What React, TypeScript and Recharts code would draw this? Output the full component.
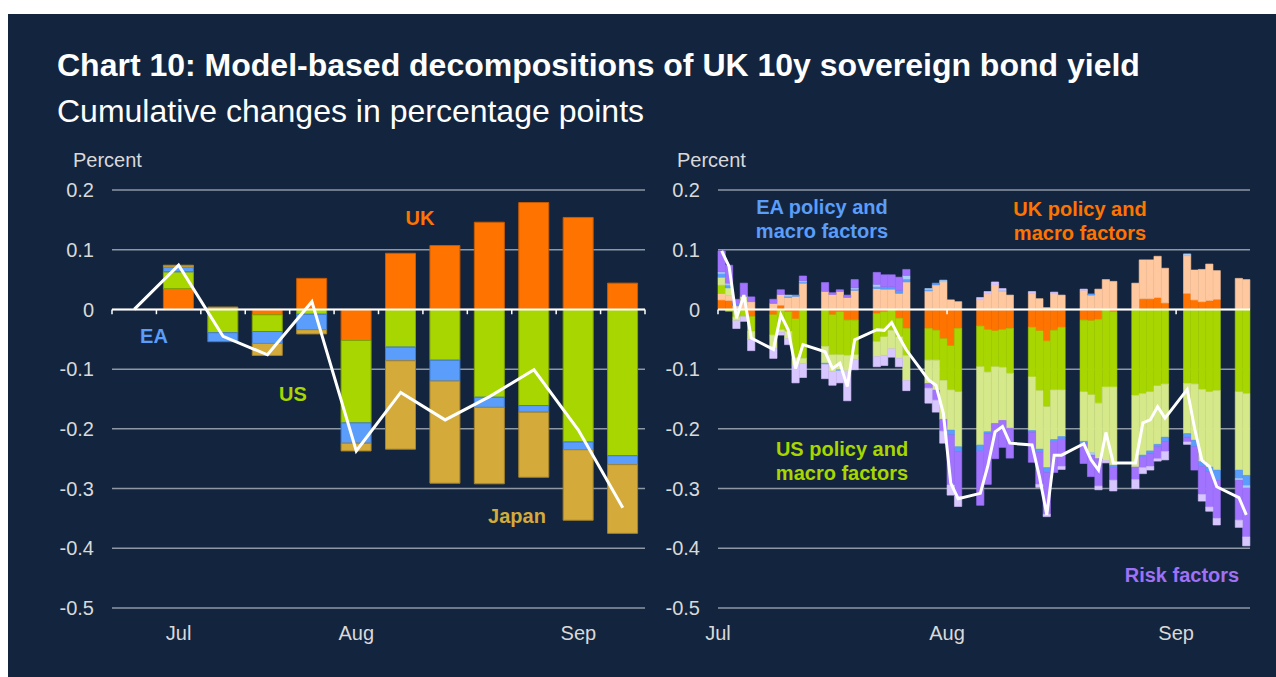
import { Bar, CartesianGrid, ComposedChart, Line, ReferenceLine, XAxis, YAxis } from 'recharts';

// ---- left panel: weekly contributions (first slot is the starting point) ----
const weekLabels = ['', 'Jul', '', '', '', 'Aug', '', '', '', '', 'Sep', ''];
const weeklyUK = [null, 0.035, 0, -0.009, 0.052, -0.052, 0.094, 0.107, 0.146, 0.179, 0.154, 0.044];
const weeklyUS = [null, 0.028, -0.039, -0.028, -0.008, -0.138, -0.063, -0.085, -0.147, -0.161, -0.222, -0.245];
const weeklyEA = [null, 0.008, -0.015, -0.02, -0.026, -0.034, -0.023, -0.035, -0.017, -0.011, -0.013, -0.015];
const weeklyJapan = [null, 0.003, 0.004, -0.02, -0.007, -0.013, -0.148, -0.171, -0.128, -0.109, -0.118, -0.115];
const weeklyTotal = [0, 0.074, -0.045, -0.076, 0.013, -0.237, -0.139, -0.185, -0.146, -0.101, -0.202, -0.332];

// ---- right panel: daily contributions ----
const dailyDates = [
  '2024-07-01', '2024-07-02', '2024-07-03', '2024-07-04', '2024-07-05',
  '2024-07-08', '2024-07-09', '2024-07-10', '2024-07-11', '2024-07-12',
  '2024-07-15', '2024-07-16', '2024-07-17', '2024-07-18', '2024-07-19',
  '2024-07-22', '2024-07-23', '2024-07-24', '2024-07-25', '2024-07-26',
  '2024-07-29', '2024-07-30', '2024-07-31', '2024-08-01', '2024-08-02',
  '2024-08-05', '2024-08-06', '2024-08-07', '2024-08-08', '2024-08-09',
  '2024-08-12', '2024-08-13', '2024-08-14', '2024-08-15', '2024-08-16',
  '2024-08-19', '2024-08-20', '2024-08-21', '2024-08-22', '2024-08-23',
  '2024-08-26', '2024-08-27', '2024-08-28', '2024-08-29', '2024-08-30',
  '2024-09-02', '2024-09-03', '2024-09-04', '2024-09-05', '2024-09-06',
  '2024-09-09', '2024-09-10',
];
const ukPolicy = [
  0.016, 0.015, 0, 0, -0.012,
  -0.009, 0.007, -0.004, -0.016, 0,
  0, -0.009, -0.004, -0.018, -0.018,
  -0.007, -0.004, 0, -0.015, -0.032,
  -0.032, -0.035, -0.049, -0.061, -0.032,
  -0.028, -0.034, -0.036, -0.034, -0.032,
  -0.03, -0.036, -0.053, -0.035, -0.03,
  -0.018, -0.019, -0.017, 0, -0.004,
  0, 0.018, 0.018, 0.02, 0.011,
  0.027, 0.016, 0.013, 0.015, 0.017,
  0, 0,
];
const ukMacro = [
  0.011, 0.008, 0.006, 0.01, 0.013,
  0.01, 0.018, 0.02, 0.022, 0.044,
  0.03, 0.025, 0.03, 0.02, 0.032,
  0.035, 0.034, 0.034, 0.027, 0.046,
  0.031, 0.041, 0.046, 0.016, 0.013,
  0.016, 0.026, 0.041, 0.03, 0.024,
  0.027, 0.018, 0.003, 0.026, 0.024,
  0.032, 0.024, 0.034, 0.05, 0.047,
  0.044, 0.065, 0.065, 0.069, 0.058,
  0.063, 0.05, 0.054, 0.061, 0.048,
  0.052, 0.05,
];
const usPolicy = [
  0.014, -0.003, -0.013, -0.012, -0.025,
  -0.034, -0.034, -0.033, -0.065, -0.082,
  -0.062, -0.067, -0.072, -0.059, -0.058,
  -0.047, -0.042, -0.035, -0.031, -0.045,
  -0.053, -0.05, -0.07, -0.074, -0.106,
  -0.068, -0.071, -0.06, -0.063, -0.075,
  -0.083, -0.1, -0.11, -0.1, -0.105,
  -0.12, -0.124, -0.14, -0.13, -0.126,
  -0.144, -0.141, -0.138, -0.128, -0.125,
  -0.124, -0.125, -0.134, -0.138, -0.136,
  -0.138, -0.141,
];
const usMacro = [
  0.013, 0.013, -0.006, 0.012, -0.013,
  -0.022, -0.004, -0.012, -0.012, -0.009,
  -0.028, -0.028, -0.025, -0.026, -0.008,
  -0.025, -0.031, -0.031, -0.036, -0.042,
  -0.039, -0.05, -0.065, -0.067, -0.092,
  -0.131, -0.1, -0.095, -0.089, -0.092,
  -0.09, -0.098, -0.102, -0.083, -0.078,
  -0.083, -0.097, -0.093, -0.123, -0.131,
  -0.12, -0.103, -0.099, -0.098, -0.089,
  -0.084, -0.094, -0.121, -0.126, -0.133,
  -0.131, -0.137,
];
const eaPolicy = [
  0.006, 0.005, 0.003, 0, 0,
  0, 0, 0.002, 0.002, 0.002,
  -0.002, 0, -0.002, 0, 0.002,
  0.003, 0.004, 0.004, 0.005, 0.005,
  0.002, 0.003, 0, -0.008, -0.008,
  -0.01, -0.003, 0, 0, 0,
  -0.003, -0.005, -0.008, -0.004, -0.004,
  -0.003, 0.002, 0, 0, -0.003,
  0, -0.003, -0.004, -0.004, -0.007,
  -0.006, -0.011, -0.008, -0.008, -0.017,
  -0.014, -0.017,
];
const eaMacro = [
  0.003, 0.003, 0, 0, 0,
  0, 0, 0.002, 0, 0.002,
  0, 0, 0, 0, 0.002,
  0.004, 0, 0, 0, 0.006,
  0.002, 0, 0.003, 0, 0,
  0, 0, 0, 0.002, 0,
  0, 0, 0, 0, 0,
  0, -0.004, 0, 0, 0,
  0, 0, 0, 0, 0,
  0.003, 0, 0, 0, 0,
  -0.003, -0.004,
];
const riskMain = [
  0.035, 0.03, 0.008, 0.022, 0.008,
  0.007, 0.008, 0, 0, 0.008,
  0.015, 0.003, 0.003, 0.004, 0.014,
  0.02, 0.02, 0.02, 0.022, 0.01,
  -0.008, -0.017, -0.02, -0.084, -0.075,
  -0.091, -0.085, -0.059, -0.045, -0.05,
  -0.05, -0.054, -0.07, -0.051, -0.046,
  -0.034, -0.036, -0.046, 0, -0.022,
  -0.021, -0.018, -0.022, -0.02, -0.017,
  -0.008, -0.039, -0.047, -0.059, -0.064,
  -0.067, -0.082,
];
const riskOther = [
  0, 0, -0.013, -0.008, -0.019,
  -0.017, -0.005, -0.01, -0.03, -0.023,
  -0.024, -0.023, -0.02, -0.05, -0.017,
  -0.017, -0.017, -0.014, -0.014, -0.017,
  -0.025, -0.02, -0.02, -0.017, -0.017,
  0.004, 0.004, 0.005, 0.003, 0,
  0.003, -0.005, -0.004, 0.003, -0.005,
  0.002, 0, -0.006, -0.004, -0.018,
  -0.015, -0.01, -0.006, -0.004, -0.014,
  -0.004, 0, -0.011, -0.007, -0.011,
  -0.012, -0.015,
];
const dailyTotal = [
  0.098, 0.072, -0.015, 0.024, -0.048,
  -0.067, -0.009, -0.034, -0.099, -0.059,
  -0.071, -0.099, -0.09, -0.129, -0.051,
  -0.034, -0.035, -0.022, -0.046, -0.068,
  -0.118, -0.127, -0.174, -0.291, -0.317,
  -0.308, -0.263, -0.205, -0.196, -0.224,
  -0.227, -0.28, -0.344, -0.244, -0.244,
  -0.225, -0.252, -0.269, -0.206, -0.257,
  -0.257, -0.19, -0.185, -0.163, -0.182,
  -0.134, -0.199, -0.253, -0.263, -0.297,
  -0.315, -0.344,
];
const monthStarts = ['2024-07-01', '2024-08-01', '2024-09-01'];
const monthLabels = ['Jul', 'Aug', 'Sep'];

const yTicks = [0.2, 0.1, 0, -0.1, -0.2, -0.3, -0.4, -0.5];

const BG = '#13253e';
const GRID = '#8e97a4';
const TEXT = '#d9d9d9';
const FONT = '"Liberation Sans", Arial, sans-serif';

const C = {
  ukPolicy: '#ff7400',
  ukMacro: '#ffc89e',
  usPolicy: '#a8d600',
  usMacro: '#d5e88a',
  eaPolicy: '#5a9dfb',
  eaMacro: '#a9cff7',
  riskMain: '#a173ff',
  riskOther: '#d8c6ff',
  japan: '#d4ab3a',
};

const dayIndex = (iso: string) => {
  const [y, m, d] = iso.split('-').map(Number);
  return Math.round((Date.UTC(y, m - 1, d) - Date.UTC(2024, 6, 1)) / 86400000);
};

const weeklyData = weekLabels.map((_, i) => ({
  i,
  uk: weeklyUK[i],
  us: weeklyUS[i],
  ea: weeklyEA[i],
  japan: weeklyJapan[i],
  total: weeklyTotal[i],
}));
const weekTicks = weekLabels.map((l, i) => (l ? i : -1)).filter((i) => i >= 0);

const dailyData = dailyDates.map((d, i) => ({
  day: dayIndex(d),
  ukPolicy: ukPolicy[i],
  ukMacro: ukMacro[i],
  usPolicy: usPolicy[i],
  usMacro: usMacro[i],
  eaPolicy: eaPolicy[i],
  eaMacro: eaMacro[i],
  riskMain: riskMain[i],
  riskOther: riskOther[i],
  total: dailyTotal[i],
}));
const monthTicks = monthStarts.map((d) => dayIndex(d) - 0.5);
const lastDay = dayIndex(dailyDates[dailyDates.length - 1]);

const fmtY = (v: number) => (v === 0 ? '0' : v.toFixed(1));
const tickStyle = { fill: TEXT, fontSize: 20, fontFamily: FONT };

const yAxis = (width: number) => (
  <YAxis
    domain={[-0.5, 0.2]}
    ticks={yTicks}
    tickFormatter={fmtY}
    tick={tickStyle}
    tickLine={false}
    axisLine={false}
    tickSize={0}
    tickMargin={18}
    width={width}
    interval={0}
  />
);

const zeroTick = (x: number) => (
  <ReferenceLine
    key={'t' + x}
    segment={[{ x, y: 0 }, { x, y: -0.008 }]}
    stroke="#ffffff"
    strokeWidth={1.5}
  />
);

function WeeklyChart() {
  const boundaries = weekLabels.map((_, i) => i - 0.5).concat(weekLabels.length - 0.5);
  return (
    <ComposedChart
      width={610}
      height={500}
      data={weeklyData}
      stackOffset="sign"
      margin={{ top: 40, right: 13, bottom: 12, left: 0 }}
    >
      <CartesianGrid horizontal vertical={false} stroke={GRID} strokeWidth={1.5} />
      <XAxis
        dataKey="i"
        type="number"
        domain={[-0.5, weekLabels.length - 0.5]}
        ticks={weekTicks}
        tickFormatter={(v: number) => weekLabels[v]}
        tick={tickStyle}
        tickLine={false}
        axisLine={false}
        tickSize={0}
        tickMargin={18}
        height={30}
        interval={0}
      />
      {yAxis(64)}
      <Bar dataKey="uk" stackId="a" fill={C.ukPolicy} stroke="#c85a00" strokeWidth={1} barSize={30} isAnimationActive={false} />
      <Bar dataKey="us" stackId="a" fill={C.usPolicy} stroke="#82a400" strokeWidth={1} barSize={30} isAnimationActive={false} />
      <Bar dataKey="ea" stackId="a" fill={C.eaPolicy} stroke="#3f7bd0" strokeWidth={1} barSize={30} isAnimationActive={false} />
      <Bar dataKey="japan" stackId="a" fill={C.japan} stroke="#a5832a" strokeWidth={1} barSize={30} isAnimationActive={false} />
      <ReferenceLine y={0} stroke="#ffffff" strokeWidth={2} />
      {boundaries.map(zeroTick)}
      <Line dataKey="total" stroke="#ffffff" strokeWidth={3} dot={false} type="linear" isAnimationActive={false} />
    </ComposedChart>
  );
}

const dailyKeys: (keyof typeof C)[] = [
  'ukPolicy', 'ukMacro', 'usPolicy', 'usMacro', 'eaPolicy', 'eaMacro', 'riskMain', 'riskOther',
];

function DailyChart() {
  return (
    <ComposedChart
      width={610}
      height={500}
      data={dailyData}
      stackOffset="sign"
      margin={{ top: 40, right: 12, bottom: 12, left: 0 }}
    >
      <CartesianGrid horizontal vertical={false} stroke={GRID} strokeWidth={1.5} />
      <XAxis
        dataKey="day"
        type="number"
        domain={[-0.5, lastDay + 0.5]}
        ticks={monthTicks}
        tickFormatter={(v: number) => monthLabels[monthTicks.indexOf(v)]}
        tick={tickStyle}
        tickLine={false}
        axisLine={false}
        tickSize={0}
        tickMargin={18}
        height={30}
        interval={0}
      />
      {yAxis(66)}
      {dailyKeys.map((k) => (
        <Bar
          key={k}
          dataKey={k}
          stackId="d"
          fill={C[k]}
          stroke={C[k]}
          strokeWidth={0.6}
          barSize={7.3}
          isAnimationActive={false}
        />
      ))}
      <ReferenceLine y={0} stroke="#ffffff" strokeWidth={2} />
      {monthTicks.map(zeroTick)}
      <Line dataKey="total" stroke="#ffffff" strokeWidth={3} dot={false} type="linear" isAnimationActive={false} />
    </ComposedChart>
  );
}

const label = (text: string[], color: string, cx: number, cy: number) => (
  <div
    style={{
      position: 'absolute',
      left: cx,
      top: cy,
      transform: 'translate(-50%, -50%)',
      color,
      fontFamily: FONT,
      fontWeight: 700,
      fontSize: 20,
      lineHeight: '24px',
      textAlign: 'center',
      whiteSpace: 'nowrap',
    }}
  >
    {text.map((t) => (
      <div key={t}>{t}</div>
    ))}
  </div>
);

export default function App() {
  // container sits at page (8, 14); positions below are container-relative
  return (
    <div
      style={{
        position: 'absolute',
        left: 8,
        top: 14,
        width: 1268,
        height: 663,
        background: BG,
        fontFamily: FONT,
        overflow: 'hidden',
      }}
    >
      <div style={{ position: 'absolute', left: 49, top: 35, fontSize: 32, fontWeight: 700, color: '#fff', lineHeight: '32px', whiteSpace: 'nowrap' }}>
        Chart 10: Model-based decompositions of UK 10y sovereign bond yield
      </div>
      <div style={{ position: 'absolute', left: 49, top: 81, fontSize: 32, color: '#fff', lineHeight: '32px', whiteSpace: 'nowrap' }}>
        Cumulative changes in percentage points
      </div>
      <div style={{ position: 'absolute', left: 65, top: 135, fontSize: 20, color: TEXT, lineHeight: '22px' }}>Percent</div>
      <div style={{ position: 'absolute', left: 669, top: 135, fontSize: 20, color: TEXT, lineHeight: '22px' }}>Percent</div>
      <div style={{ position: 'absolute', left: 40, top: 136 }}>
        <WeeklyChart />
      </div>
      <div style={{ position: 'absolute', left: 644, top: 136 }}>
        <DailyChart />
      </div>
      {label(['UK'], C.ukPolicy, 412, 204)}
      {label(['EA'], C.eaPolicy, 146, 322)}
      {label(['US'], C.usPolicy, 285, 380)}
      {label(['Japan'], C.japan, 509, 502)}
      {label(['EA policy and', 'macro factors'], C.eaPolicy, 814, 205)}
      {label(['UK policy and', 'macro factors'], C.ukPolicy, 1072, 207)}
      {label(['US policy and', 'macro factors'], C.usPolicy, 834, 447)}
      {label(['Risk factors'], '#a070f5', 1174, 561)}
    </div>
  );
}
